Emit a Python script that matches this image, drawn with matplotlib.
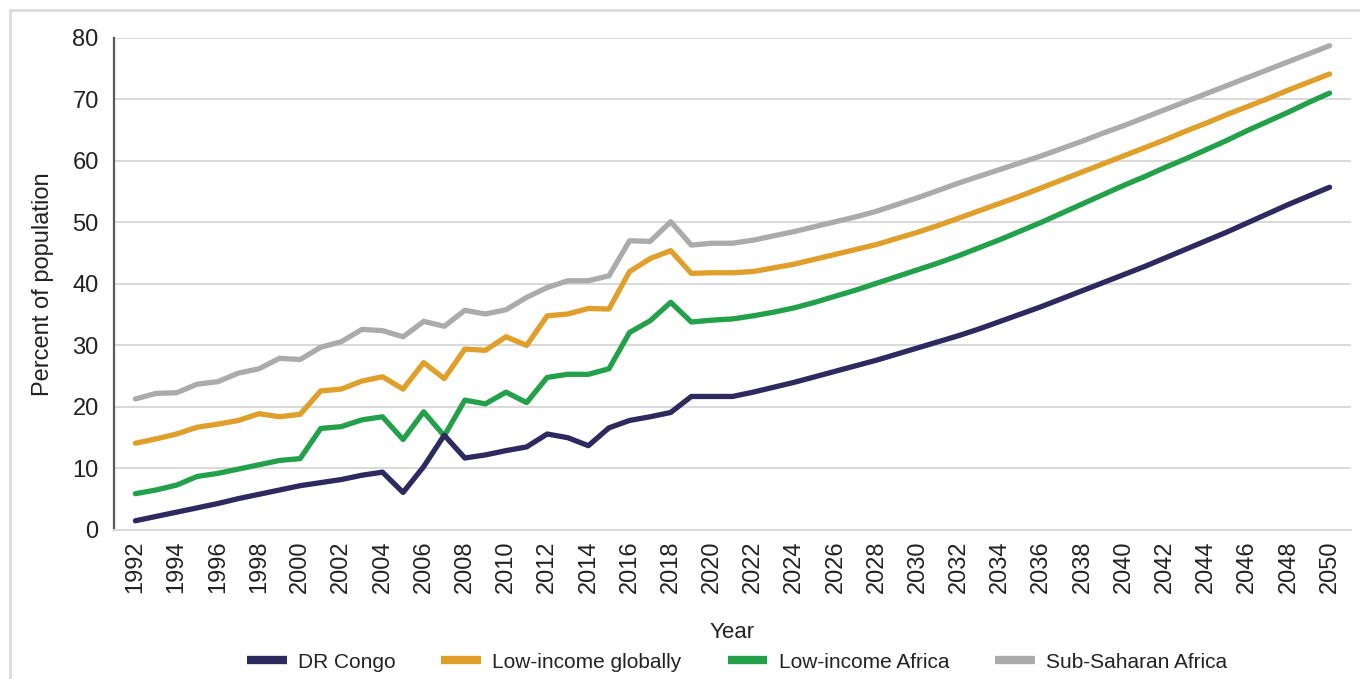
import matplotlib
matplotlib.use("Agg")
import matplotlib.pyplot as plt
from matplotlib.lines import Line2D
from matplotlib.patches import Rectangle

plt.rcParams['font.family'] = ['Liberation Sans', 'DejaVu Sans']

years = list(range(1992, 2051))

dr_congo = [1.5, 2.2, 2.9, 3.6, 4.3, 5.1, 5.8, 6.5, 7.2, 7.7, 8.2, 8.9, 9.4,
            6.1, 10.3, 15.4, 11.7, 12.2, 12.9, 13.5, 15.6, 15.0, 13.7, 16.6,
            17.8, 18.4, 19.1, 21.7, 21.7,
            21.7, 22.4, 23.2, 24.0, 24.9, 25.8, 26.7, 27.6, 28.6, 29.6, 30.6,
            31.6, 32.7, 33.9, 35.1, 36.3, 37.6, 38.9, 40.2, 41.5, 42.8, 44.2,
            45.6, 47.0, 48.4, 49.9, 51.4, 52.9, 54.3, 55.7]

low_income_global = [14.1, 14.8, 15.6, 16.7, 17.2, 17.8, 18.9, 18.4, 18.8,
                     22.6, 22.9, 24.2, 24.9, 22.9, 27.2, 24.6, 29.4, 29.2,
                     31.4, 30.0, 34.8, 35.1, 36.0, 35.9, 42.0, 44.1, 45.4,
                     41.7, 41.8,
                     41.8, 42.0, 42.6, 43.2, 44.0, 44.8, 45.6, 46.4, 47.4,
                     48.4, 49.5, 50.7, 51.9, 53.1, 54.3, 55.6, 56.9, 58.2,
                     59.5, 60.8, 62.1, 63.4, 64.8, 66.1, 67.5, 68.8, 70.1,
                     71.5, 72.8, 74.1]

low_income_africa = [5.9, 6.5, 7.3, 8.7, 9.2, 9.9, 10.6, 11.3, 11.6, 16.5,
                     16.8, 17.9, 18.4, 14.7, 19.2, 15.3, 21.1, 20.5, 22.4,
                     20.7, 24.8, 25.3, 25.3, 26.2, 32.1, 34.0, 37.0, 33.8,
                     34.1,
                     34.3, 34.8, 35.4, 36.1, 37.0, 38.0, 39.0, 40.1, 41.2,
                     42.3, 43.4, 44.6, 45.9, 47.2, 48.6, 50.0, 51.5, 53.0,
                     54.5, 56.0, 57.4, 58.9, 60.3, 61.8, 63.3, 64.9, 66.4,
                     67.9, 69.5, 71.0]

sub_saharan = [21.3, 22.2, 22.3, 23.7, 24.1, 25.5, 26.2, 27.9, 27.7, 29.7,
               30.6, 32.6, 32.4, 31.4, 33.9, 33.1, 35.7, 35.1, 35.8, 37.8,
               39.4, 40.5, 40.5, 41.3, 47.0, 46.9, 50.1, 46.3, 46.6,
               46.6, 47.1, 47.8, 48.5, 49.3, 50.1, 50.9, 51.8, 52.9, 54.0,
               55.2, 56.4, 57.5, 58.6, 59.7, 60.8, 62.0, 63.2, 64.5, 65.7,
               67.0, 68.3, 69.6, 70.9, 72.2, 73.5, 74.8, 76.1, 77.4, 78.7]

series_names = ["DR Congo", "Low-income globally", "Low-income Africa", "Sub-Saharan Africa"]
series_values = [dr_congo, low_income_global, low_income_africa, sub_saharan]
colors = ["#2e2a5f", "#e09e2a", "#23a14a", "#ababab"]

yticks = [0, 10, 20, 30, 40, 50, 60, 70, 80]
xticks = list(range(1992, 2051, 2))

W, H = 1360, 679
fig = plt.figure(figsize=(W / 100, H / 100), dpi=100)
ax = fig.add_axes([114 / W, 1 - 530 / H, (1351 - 114) / W, (530 - 37.7) / H])

# figure border
fig.patches.append(Rectangle((10 / W, -0.2), 1.2, 1 - 10 / H + 0.2,
                             transform=fig.transFigure, fill=False,
                             edgecolor="#dcdcdc", linewidth=2, zorder=0))

# draw order: gray, orange, green, navy on top
for idx in [3, 1, 2, 0]:
    ax.plot(years, series_values[idx], color=colors[idx], linewidth=3.8,
            solid_capstyle="round", solid_joinstyle="round", zorder=3 + (3 - idx))

ax.set_xlim(1990.96, 2051.04)
ax.set_ylim(0, 80)
ax.set_yticks(yticks)
ax.set_xticks(xticks)
ax.set_xticklabels([str(x) for x in xticks], rotation=90)
ax.tick_params(axis="both", length=0, labelsize=17, colors="#222222")
ax.tick_params(axis="y", pad=11)
ax.tick_params(axis="x", pad=7.5)

ax.grid(axis="y", color="#d9d9d9", linewidth=1.4, zorder=0)
ax.set_axisbelow(True)
for s in ["top", "right"]:
    ax.spines[s].set_visible(False)
ax.spines["left"].set_color("#595959")
ax.spines["left"].set_linewidth(1.6)
ax.spines["bottom"].set_color("#d9d9d9")
ax.spines["bottom"].set_linewidth(1.4)

ax.set_ylabel("Percent of population", fontsize=17, color="#222222", labelpad=13)
fig.text(732 / W, 1 - 632 / H, "Year", ha="center", va="center", fontsize=16, color="#222222")

handles = [Line2D([0], [0], color=c, linewidth=6, solid_capstyle="butt") for c in colors]
fig.legend(handles, series_names, loc="center", bbox_to_anchor=(737 / W, 1 - 662 / H),
           ncol=4, frameon=False, fontsize=15, handlelength=1.9, handletextpad=0.55,
           columnspacing=2.2, labelcolor="#222222")

fig.savefig("out.png", dpi=100)
